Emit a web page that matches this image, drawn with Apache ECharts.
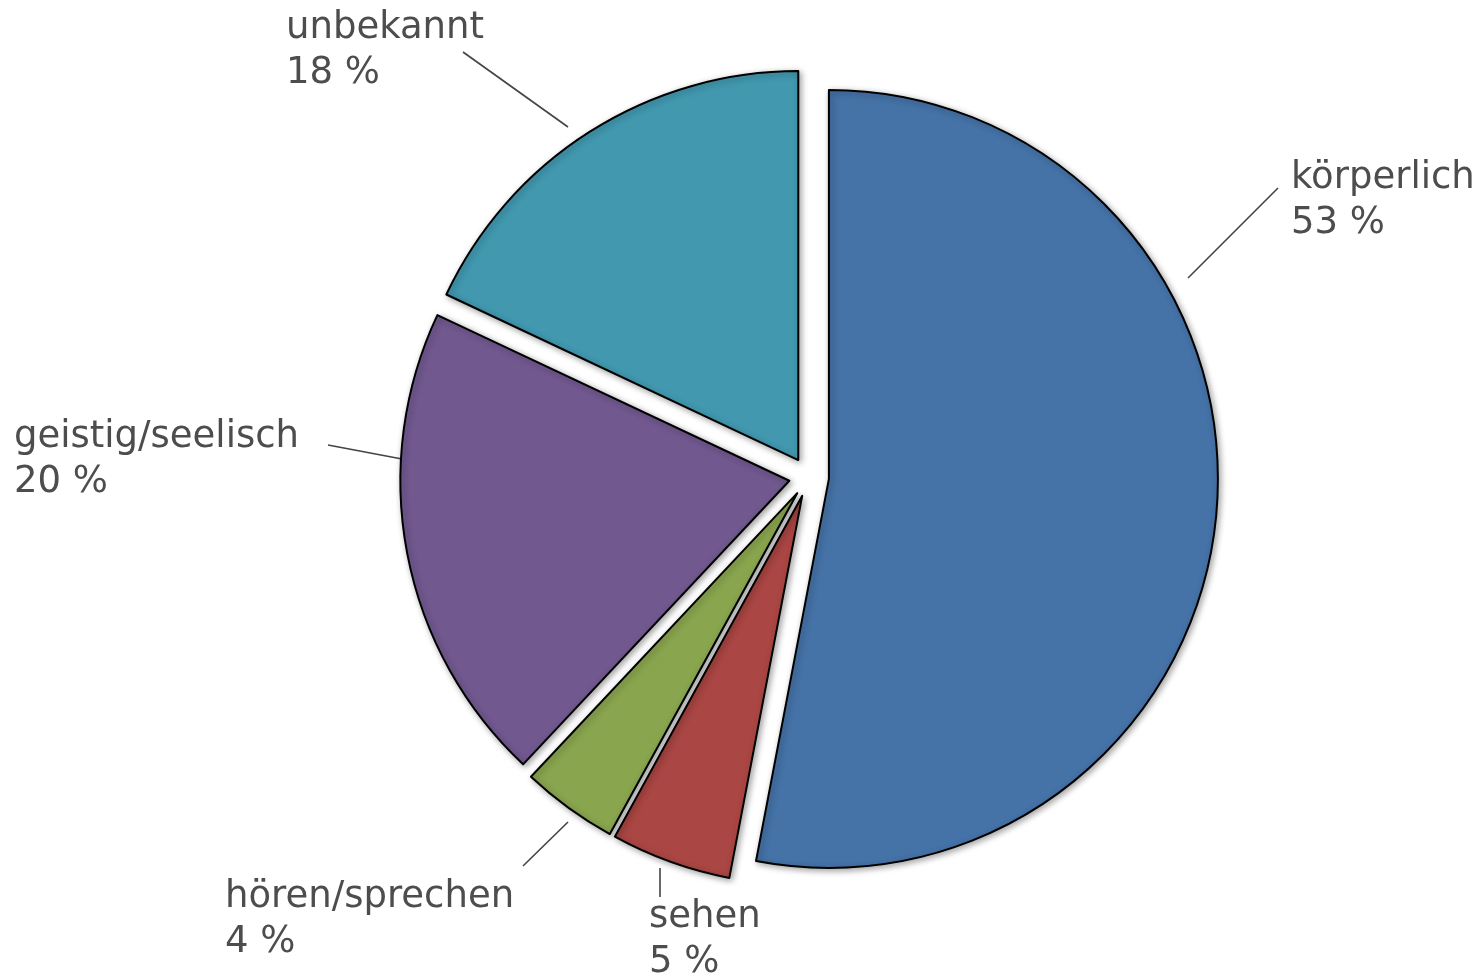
<!DOCTYPE html>
<html>
<head>
<meta charset="utf-8">
<script src="https://cdn.jsdelivr.net/npm/echarts@6/dist/echarts.min.js"></script>
<style>
html,body{margin:0;padding:0;background:#fff;}
#chart{width:1482px;height:974px;}
</style>
</head>
<body>
<div id="chart"></div>
<script>
// Data
const categories = ['körperlich', 'sehen', 'hören/sprechen', 'geistig/seelisch', 'unbekannt'];
const values = [53, 5, 4, 20, 18];
const colors = ['#4572A7', '#AA4643', '#89A54E', '#71588F', '#4198AF'];

// Label placement (annotation layout, pixels): text top-left and connector line
const labelBoxes = [
  {x: 1291, y: 156, line: [[1188, 278], [1278, 188]]},
  {x: 649, y: 895, line: [[660, 868], [660, 897]]},
  {x: 225, y: 875, line: [[568, 822], [523, 866]]},
  {x: 14, y: 415, line: [[402, 459], [328, 445]]},
  {x: 286, y: 6, line: [[568, 127], [463, 52]]}
];
const OFFSET = 20;
const TEXT_COLOR = '#4d4d4d';
const FONT = '37px "DejaVu Sans"';

// offset of each exploded slice along its bisector (label line lives in slice's frame)
const total = values.reduce((a, b) => a + b, 0);
const sliceShift = [];
let acc = 0;
values.forEach(v => {
  const mid = (acc + v / 2) / total * 2 * Math.PI;
  sliceShift.push([OFFSET * Math.sin(mid), -OFFSET * Math.cos(mid)]);
  acc += v;
});

const chart = echarts.init(document.getElementById('chart'), null, {renderer: 'canvas'});
chart.setOption({
  animation: false,
  backgroundColor: '#ffffff',
  graphic: categories.map((c, i) => ({
    type: 'text',
    x: labelBoxes[i].x,
    y: labelBoxes[i].y,
    silent: true,
    style: {
      text: c + '\n' + values[i] + ' %',
      font: FONT,
      fill: TEXT_COLOR,
      lineHeight: 45,
      align: 'left',
      verticalAlign: 'top'
    }
  })),
  series: [{
    type: 'pie',
    center: [809, 477],
    radius: 389,
    startAngle: 90,
    clockwise: true,
    selectedMode: 'multiple',
    selectedOffset: OFFSET,
    avoidLabelOverlap: false,
    data: categories.map((c, i) => ({
      name: c,
      value: values[i],
      selected: true,
      itemStyle: {color: colors[i]}
    })),
    itemStyle: {
      borderColor: '#000000',
      borderWidth: 2,
      shadowBlur: 6,
      shadowColor: 'rgba(0,0,0,0.35)',
      shadowOffsetX: 2,
      shadowOffsetY: 2
    },
    label: {
      show: true,
      position: 'outside',
      formatter: '{b}\n{c} %',
      fontFamily: 'DejaVu Sans',
      fontSize: 37,
      lineHeight: 45,
      color: 'rgba(0,0,0,0)'
    },
    labelLine: {
      show: true,
      length: 20,
      length2: 0,
      lineStyle: {color: '#444444', width: 1.6}
    },
    labelLayout: function (params) {
      const i = params.dataIndex;
      const s = sliceShift[i];
      return {
        labelLinePoints: labelBoxes[i].line.map(p => [p[0] - s[0], p[1] - s[1]])
      };
    },
    emphasis: {disabled: true}
  }]
});
</script>
</body>
</html>
